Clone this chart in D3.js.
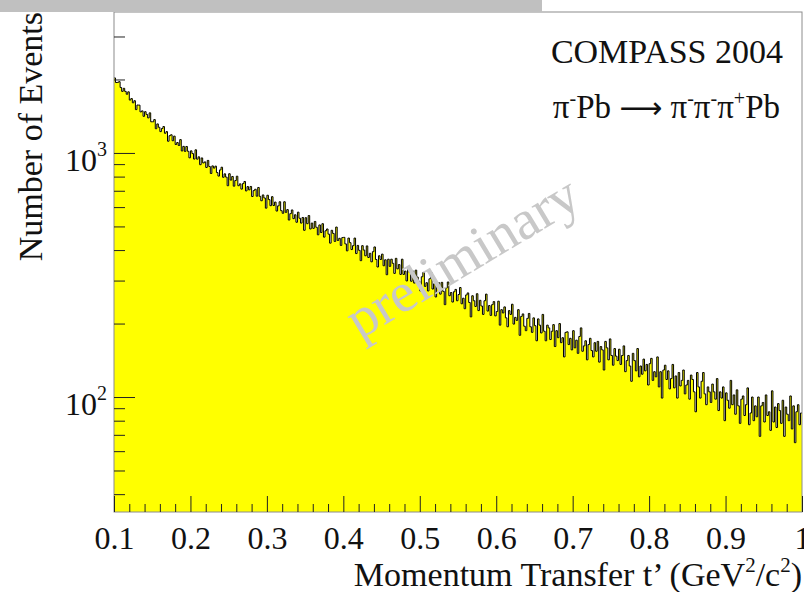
<!DOCTYPE html>
<html>
<head>
<meta charset="utf-8">
<script src="https://cdn.jsdelivr.net/npm/d3@7"></script>
<style>
  body { margin: 0; background: #fff; }
  text { font-family: "Liberation Serif", "DejaVu Serif", serif; fill: #111; }
</style>
</head>
<body>
<div id="chart"></div>
<script>
// Histogram of t' : first bin edge, bin width and counts per bin
var binLow = 0.1;
var binWidth = 0.002;
var counts = [
  2029, 1943, 1946, 1959, 1854, 1788, 1840, 1787, 1740, 1780, 1647, 1670, 1605, 1637, 1505,
  1572, 1570, 1473, 1487, 1413, 1476, 1438, 1392, 1460, 1342, 1342, 1370, 1257, 1315, 1274,
  1223, 1259, 1283, 1204, 1223, 1117, 1177, 1187, 1122, 1172, 1083, 1103, 1073, 1134, 1019,
  1064, 1015, 1063, 1016, 955, 1020, 994, 944, 1030, 943, 964, 895, 954, 910, 919,
  872, 932, 880, 824, 885, 867, 883, 831, 804, 852, 874, 795, 821, 796, 734,
  822, 774, 801, 731, 771, 803, 734, 747, 711, 749, 764, 699, 728, 706, 729,
  663, 701, 710, 665, 722, 664, 637, 673, 654, 594, 671, 644, 608, 662, 609,
  629, 578, 607, 631, 580, 566, 631, 571, 586, 531, 564, 584, 538, 558, 520,
  572, 540, 516, 544, 482, 543, 513, 554, 488, 516, 491, 524, 496, 462, 507,
  472, 513, 452, 480, 488, 465, 427, 482, 468, 434, 497, 438, 447, 418, 450,
  451, 424, 397, 448, 429, 402, 417, 448, 387, 418, 399, 362, 417, 400, 379,
  416, 373, 388, 358, 394, 412, 366, 341, 379, 366, 385, 345, 365, 317, 367,
  343, 367, 353, 321, 370, 335, 349, 318, 367, 318, 328, 299, 337, 324, 298,
  328, 293, 331, 310, 298, 272, 311, 324, 284, 294, 272, 305, 324, 277, 291,
  257, 285, 294, 264, 295, 271, 239, 280, 296, 260, 268, 245, 270, 276, 248,
  263, 281, 241, 254, 230, 262, 267, 244, 213, 260, 248, 235, 265, 226, 249,
  236, 218, 248, 264, 225, 237, 216, 239, 246, 215, 224, 247, 197, 228, 221,
  234, 211, 194, 226, 218, 240, 199, 212, 206, 228, 179, 214, 219, 195, 187,
  210, 220, 194, 184, 211, 196, 170, 209, 197, 183, 218, 186, 170, 197, 192,
  172, 186, 198, 161, 187, 175, 200, 167, 175, 146, 184, 185, 164, 174, 156,
  187, 159, 171, 151, 177, 192, 154, 162, 170, 142, 164, 174, 155, 146, 167,
  154, 169, 139, 161, 156, 129, 169, 159, 142, 173, 148, 135, 158, 147, 141,
  157, 136, 148, 162, 127, 141, 148, 134, 116, 151, 141, 128, 158, 121, 134,
  124, 143, 128, 136, 112, 137, 144, 117, 127, 121, 146, 110, 127, 99, 129,
  135, 118, 128, 108, 119, 136, 109, 122, 99, 126, 111, 117, 129, 103, 112,
  117, 98, 123, 118, 105, 87, 126, 110, 99, 116, 126, 103, 93, 110, 105,
  95, 113, 105, 98, 119, 88, 105, 99, 110, 80, 104, 97, 90, 117, 93,
  102, 85, 107, 92, 78, 98, 101, 84, 93, 109, 77, 86, 100, 80, 92,
  83, 100, 69, 92, 95, 79, 102, 84, 87, 73, 106, 79, 91, 75, 94,
  88, 78, 97, 69, 91, 85, 80, 101, 74, 92, 65, 87, 93, 77, 86
];

var xDomain = [0.1, 1.0];
var yDomain = [33.8, 3780];
var xMajorTicks = [0.1, 0.2, 0.3, 0.4, 0.5, 0.6, 0.7, 0.8, 0.9, 1.0];
var xTickLabels = ['0.1', '0.2', '0.3', '0.4', '0.5', '0.6', '0.7', '0.8', '0.9', '1'];
var yMajorTicks = [100, 1000];
var yTickExponents = ['2', '3'];
var yMinorTicks = [40, 50, 60, 70, 80, 90, 200, 300, 400, 500, 600, 700, 800, 900, 2000, 3000];

function createChart() {
  var canvasWidth = 804;
  var canvasHeight = 592;

  var margin = { top: 12, right: 2, left: 114, bottom: 80 };

  var svg = d3.select('#chart')
    .append('svg')
    .attr('width', canvasWidth)
    .attr('height', canvasHeight);

  svg.append('rect')
    .attr('width', canvasWidth)
    .attr('height', canvasHeight)
    .style('fill', '#fff');

  var x = d3.scaleLinear()
    .domain(xDomain)
    .range([margin.left, canvasWidth - margin.right]);

  var y = d3.scaleLog()
    .domain(yDomain)
    .range([canvasHeight - margin.bottom, margin.top]);

  return [svg, x, y];
}

function renderHistogram(svg, x, y) {
  var bottom = y.range()[0];

  // Step outline along the bin tops
  var steps = [];
  counts.forEach((c, i) => {
    var lo = binLow + i * binWidth;
    steps.push([x(lo), y(c)]);
    steps.push([x(lo + binWidth), y(c)]);
  });

  var fillPoints = [[steps[0][0], bottom]].concat(steps, [[steps[steps.length - 1][0], bottom]]);

  svg.append('path')
    .attr('d', d3.line()(fillPoints) + 'Z')
    .style('fill', '#ffff00')
    .style('stroke', 'none');

  svg.append('path')
    .attr('d', d3.line()(steps))
    .style('fill', 'none')
    .style('stroke', '#000')
    .style('stroke-width', '1px');
}

function renderAxes(svg, x, y) {
  var x0 = x.range()[0], x1 = x.range()[1];
  var y0 = y.range()[0], y1 = y.range()[1];

  // Frame
  svg.append('rect')
    .attr('x', x0)
    .attr('y', y1)
    .attr('width', x1 - x0)
    .attr('height', y0 - y1)
    .style('fill', 'none')
    .style('stroke', '#8c8c8c')
    .style('stroke-width', '1px');

  var xMinor = d3.range(0.12, 1.0, 0.02).filter(v => Math.abs(v * 10 - Math.round(v * 10)) > 1e-6);

  // x ticks point up into the frame
  var xAxis = d3.axisBottom(x)
    .tickValues(xMajorTicks)
    .tickSizeInner(-16)
    .tickSizeOuter(0)
    .tickPadding(14)
    .tickFormat((d, i) => xTickLabels[i]);

  var gx = svg.append('g')
    .attr('transform', 'translate(0,' + y0 + ')')
    .call(xAxis);
  gx.select('.domain').remove();
  gx.selectAll('.tick line').style('stroke', '#222');
  gx.selectAll('.tick text')
    .style('font-family', '"Liberation Serif", serif')
    .style('font-size', '32px')
    .style('fill', '#111');

  var gxm = svg.append('g')
    .attr('transform', 'translate(0,' + y0 + ')')
    .call(d3.axisBottom(x).tickValues(xMinor).tickSizeInner(-8).tickSizeOuter(0).tickFormat(''));
  gxm.select('.domain').remove();
  gxm.selectAll('.tick line').style('stroke', '#222');

  // y ticks point right into the frame
  var gy = svg.append('g')
    .attr('transform', 'translate(' + x0 + ',0)')
    .call(d3.axisLeft(y).tickValues(yMajorTicks).tickSizeInner(-21).tickSizeOuter(0).tickFormat(''));
  gy.select('.domain').remove();
  gy.selectAll('.tick line').style('stroke', '#222');

  var gym = svg.append('g')
    .attr('transform', 'translate(' + x0 + ',0)')
    .call(d3.axisLeft(y).tickValues(yMinorTicks).tickSizeInner(-11).tickSizeOuter(0).tickFormat(''));
  gym.select('.domain').remove();
  gym.selectAll('.tick line').style('stroke', '#222');

  // 10^n labels
  yMajorTicks.forEach((v, i) => {
    var t = svg.append('text')
      .attr('x', 107)
      .attr('y', y(v) + 18)
      .attr('text-anchor', 'end')
      .style('font-size', '32px');
    t.append('tspan').text('10');
    t.append('tspan')
      .attr('dy', -15)
      .style('font-size', '20px')
      .text(yTickExponents[i]);
  });

  // Axis titles
  var xt = svg.append('text')
    .attr('x', 802)
    .attr('y', 586)
    .attr('text-anchor', 'end')
    .style('font-size', '34px');
  xt.append('tspan').text('Momentum Transfer t\u2019 (GeV');
  xt.append('tspan').attr('dy', -14).style('font-size', '21px').text('2');
  xt.append('tspan').attr('dy', 14).text('/c');
  xt.append('tspan').attr('dy', -14).style('font-size', '21px').text('2');
  xt.append('tspan').attr('dy', 14).text(')');

  svg.append('text')
    .attr('transform', 'translate(42,12) rotate(-90)')
    .attr('text-anchor', 'end')
    .style('font-size', '34px')
    .text('Number of Events');
}

function renderLabels(svg) {
  svg.append('text')
    .attr('x', 783)
    .attr('y', 63)
    .attr('text-anchor', 'end')
    .style('font-size', '34px')
    .text('COMPASS 2004');

  var r = svg.append('text')
    .attr('x', 780)
    .attr('y', 118)
    .attr('text-anchor', 'end')
    .style('font-size', '33px');
  var parts = [['\u03c0', ''], ['-', 'sup'], ['Pb ', ''], ['\u27f6', 'arrow'], [' \u03c0', ''], ['-', 'sup'], ['\u03c0', ''], ['-', 'sup'], ['\u03c0', ''], ['+', 'sup'], ['Pb', '']];
  var raised = false;
  parts.forEach(p => {
    var ts = r.append('tspan').text(p[0]);
    if (p[1] === 'sup') {
      ts.attr('dy', -13).style('font-size', '20px');
      raised = true;
      return;
    }
    if (raised) {
      ts.attr('dy', 13);
      raised = false;
    }
    if (p[1] === 'arrow') {
      ts.style('font-family', '"DejaVu Sans", sans-serif').style('font-size', '30px');
    }
  });

  // Watermark
  svg.append('text')
    .attr('transform', 'translate(463,258) rotate(-31)')
    .attr('y', 17)
    .attr('text-anchor', 'middle')
    .style('font-size', '56px')
    .style('fill', '#c8c8c8')
    .text('preliminary');

  // Grey strip along the top of the picture
  svg.append('rect')
    .attr('x', 0)
    .attr('y', 0)
    .attr('width', 542)
    .attr('height', 12)
    .style('fill', '#c0c0c0');
}

function init() {
  var chart = createChart();
  var svg = chart[0], x = chart[1], y = chart[2];
  renderHistogram(svg, x, y);
  renderAxes(svg, x, y);
  renderLabels(svg);
}

init();
</script>
</body>
</html>
